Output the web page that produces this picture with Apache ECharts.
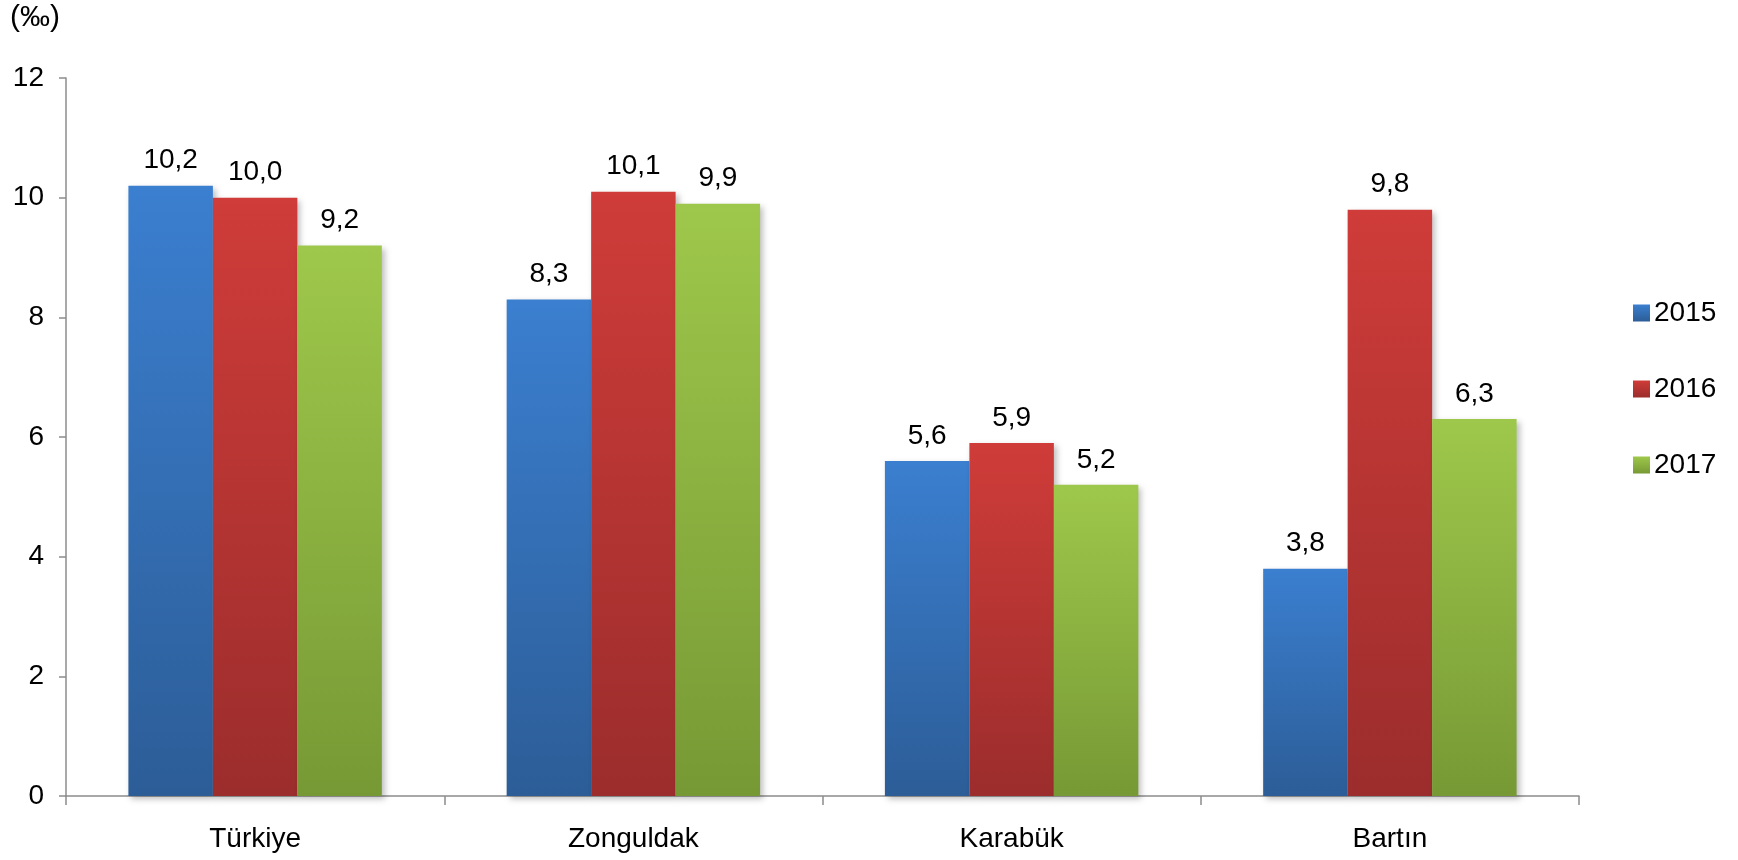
<!DOCTYPE html>
<html lang="tr">
<head>
    <meta charset="UTF-8">
    <title>Bebek ölüm hızı</title>
    <style>
      * { padding: 0; margin: 0; }
      body { background: #fff; }
    </style>
</head>
<body>
    <div id="main" style="width: 1738px;height:860px;"></div>
    <script src="https://cdn.jsdelivr.net/npm/echarts@6/dist/echarts.min.js"></script>
    <script>
    var categories = ['Türkiye', 'Zonguldak', 'Karabük', 'Bartın'];
    var years = ['2015', '2016', '2017'];
    var values2015 = [10.2, 8.3, 5.6, 3.8];
    var values2016 = [10.0, 10.1, 5.9, 9.8];
    var values2017 = [9.2, 9.9, 5.2, 6.3];
    var yTicks = [0, 2, 4, 6, 8, 10, 12];

    var FONT = 'Liberation Sans, Arial, sans-serif';

    // renk: üst açık, alt koyu
    var colors = [
        ['#3b7fd0', '#2c5d97'],
        ['#cf3c39', '#9b2d2c'],
        ['#9ec84b', '#779935']
    ];

    function grad(c) {
        return new echarts.graphic.LinearGradient(0, 0, 0, 1, [
            { offset: 0, color: c[0] },
            { offset: 1, color: c[1] }
        ]);
    }

    function makeSeries(name, data, c) {
        return {
            name: name,
            type: 'bar',
            data: data,
            barGap: 0,
            barCategoryGap: '33%',
            itemStyle: {
                color: grad(c),
                shadowColor: 'rgba(0,0,0,0.25)',
                shadowBlur: 6,
                shadowOffsetX: 3,
                shadowOffsetY: 3
            },
            label: {
                show: true,
                position: 'top',
                distance: 11,
                color: '#000',
                fontSize: 28,
                fontFamily: FONT,
                formatter: function (p) {
                    return p.value.toFixed(1).replace('.', ',');
                }
            }
        };
    }

    var option = {
        animation: false,
        textStyle: { fontFamily: FONT },
        grid: { left: 66, right: 159, top: 78, bottom: 64 },
        legend: {
            orient: 'vertical',
            left: 1628,
            top: 294,
            itemWidth: 17,
            itemHeight: 17,
            itemGap: 48,
            icon: 'rect',
            textStyle: { fontSize: 28, color: '#000', padding: [0, 0, 0, -1] },
            data: years
        },
        graphic: [
            {
                type: 'text',
                left: 10,
                top: 3,
                style: { text: '(‰)', fontSize: 30, fill: '#000', fontFamily: FONT }
            },
            {
                type: 'text',
                left: 806,
                top: -25,
                style: { text: '(2015-2017)', fontSize: 26, fill: '#000', fontFamily: FONT }
            }
        ],
        xAxis: {
            type: 'category',
            data: categories,
            axisLine: { lineStyle: { color: '#8c8c8c', width: 1.5 } },
            axisTick: { show: true, length: 9, lineStyle: { color: '#8c8c8c', width: 1.5 } },
            axisLabel: { fontSize: 28, color: '#000', margin: 29 }
        },
        yAxis: {
            type: 'value',
            min: yTicks[0],
            max: yTicks[yTicks.length - 1],
            interval: 2,
            splitLine: { show: false },
            axisLine: { show: true, lineStyle: { color: '#8c8c8c', width: 1.5 } },
            axisTick: { show: true, length: 7, lineStyle: { color: '#8c8c8c', width: 1.5 } },
            axisLabel: { fontSize: 28, color: '#000', margin: 22 }
        },
        series: [
            makeSeries(years[0], values2015, colors[0]),
            makeSeries(years[1], values2016, colors[1]),
            makeSeries(years[2], values2017, colors[2])
        ]
    };

    var myChart = echarts.init(document.getElementById('main'));
    myChart.setOption(option);
    </script>
</body>
</html>
